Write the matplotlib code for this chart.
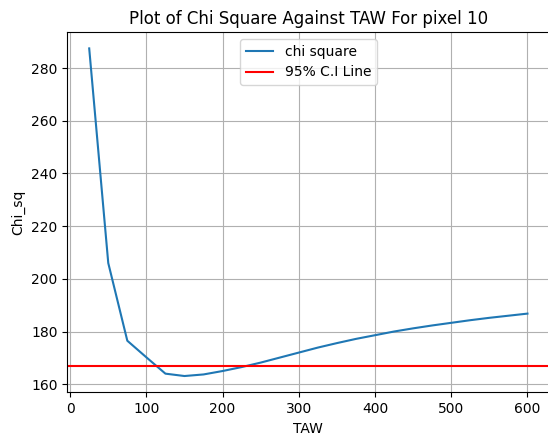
import matplotlib
matplotlib.use("Agg")
import matplotlib.pyplot as plt

taw = [25, 50, 75, 100, 125, 150, 175, 200, 225, 250, 275, 300, 325, 350, 375,
       400, 425, 450, 475, 500, 525, 550, 575, 600]
chi_sq = [287.5, 206.0, 176.5, 170.2, 164.0, 163.1, 163.7, 165.0, 166.5, 168.2,
          170.1, 172.0, 173.9, 175.6, 177.2, 178.6, 180.0, 181.2, 182.3, 183.3,
          184.3, 185.2, 186.0, 186.8]
ci_line = 166.8

fig = plt.figure(figsize=(5.48, 4.38), dpi=100)
ax = fig.add_axes([0.1228, 0.1041, 0.8797, 0.8228])
ax.plot(taw, chi_sq, label="chi square")
ax.axhline(ci_line, color="red", label="95% C.I Line")
ax.set_title("Plot of Chi Square Against TAW For pixel 10")
ax.set_xlabel("TAW")
ax.set_ylabel("Chi_sq")
ax.grid(True)
ax.legend(loc="upper center")
fig.savefig("out.png", dpi=100)
